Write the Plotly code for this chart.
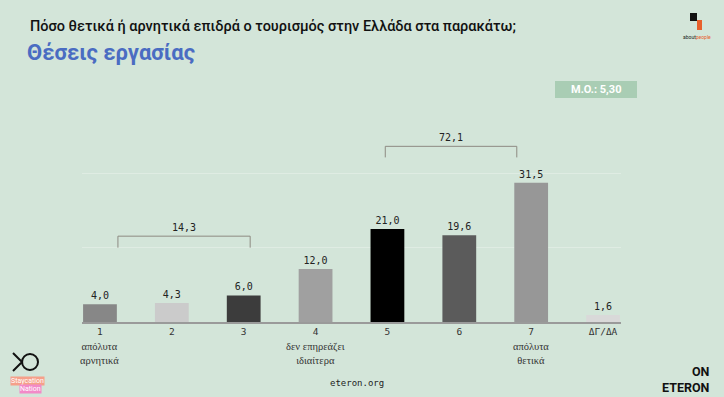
import plotly.graph_objects as go

# ---- data ----
categories = ["1", "2", "3", "4", "5", "6", "7", "ΔΓ/ΔΑ"]
values = [4.0, 4.3, 6.0, 12.0, 21.0, 19.6, 31.5, 1.6]
bar_colors = ["#878787", "#cbcbcb", "#3c3c3c", "#a0a0a0", "#000000", "#5b5b5b", "#979797", "#d9d9d9"]
descriptions = {0: "απόλυτα<br>αρνητικά", 3: "δεν επηρεάζει<br>ιδιαίτερα", 6: "απόλυτα<br>θετικά"}
group_sums = [("14,3", 0.25, 2.09, 16.8, 19.4), ("72,1", 3.97, 5.80, 37.2, 39.7)]
title = "Πόσο θετικά ή αρνητικά επιδρά ο τουρισμός στην Ελλάδα στα παρακάτω;"
subtitle = "Θέσεις εργασίας"
mean_label = "Μ.Ο.: 5,30"

W, H = 724, 397
ML, MR, MT, MB = 82, 103, 99, 75
PW, PH = W - ML - MR, H - MT - MB
BG = "#d3e5d9"


def px(x):
    return (x - ML) / PW


def py(y):
    return (H - MB - y) / PH


xs = list(range(len(categories)))
labels = [f"{v:.1f}".replace(".", ",") for v in values]

fig = go.Figure(go.Bar(
    x=xs, y=values, width=0.47,
    marker=dict(color=bar_colors, line=dict(width=0)),
    text=labels, textposition="outside", cliponaxis=False,
    textfont=dict(family="DejaVu Sans Mono", size=10, color="#222222"),
    hoverinfo="skip",
))

annotations = []
shapes = []

# title & subtitle
annotations.append(dict(text=title, x=px(28), y=py(27), xref="paper", yref="paper",
                        xanchor="left", yanchor="middle", showarrow=False,
                        font=dict(family="Roboto", size=14.5, color="#111111", weight=500)))
annotations.append(dict(text="<b>" + subtitle + "</b>", x=px(25), y=py(52), xref="paper", yref="paper",
                        xanchor="left", yanchor="middle", showarrow=False,
                        font=dict(family="Roboto", size=22, color="#4a6cc2")))

# mean box
shapes.append(dict(type="rect", xref="paper", yref="paper", x0=px(555), x1=px(637), y0=py(98), y1=py(81),
                   fillcolor="#a9cdb4", line=dict(width=0), layer="above"))
annotations.append(dict(text="<b>" + mean_label + "</b>", x=px(596), y=py(89.5), xref="paper", yref="paper",
                        showarrow=False, xanchor="center", yanchor="middle",
                        font=dict(family="Roboto", size=11, color="#ffffff")))

# group brackets
for lab, x0, x1, ylo, yhi in group_sums:
    shapes.append(dict(type="path", xref="x", yref="y",
                       path=f"M {x0} {ylo} L {x0} {yhi} L {x1} {yhi} L {x1} {ylo}",
                       line=dict(color="#8d8a82", width=1)))
    annotations.append(dict(text=lab, x=(x0 + x1) / 2, y=yhi, xref="x", yref="y",
                            yanchor="bottom", showarrow=False, yshift=1,
                            font=dict(family="DejaVu Sans Mono", size=10, color="#222222")))

# descriptions under ticks
for i, d in descriptions.items():
    annotations.append(dict(text=d, x=i, y=py(339), xref="x", yref="paper",
                            yanchor="top", showarrow=False,
                            font=dict(family="Liberation Serif", size=10.5, color="#333333")))

# footer
annotations.append(dict(text="eteron.org", x=px(357), y=py(383), xref="paper", yref="paper",
                        showarrow=False, xanchor="center", yanchor="middle",
                        font=dict(family="DejaVu Sans Mono", size=9, color="#222222")))
annotations.append(dict(text="<b>ON<br>ETERON</b>", x=px(712), y=py(380), xref="paper", yref="paper",
                        showarrow=False, xanchor="right", yanchor="middle", align="right",
                        font=dict(family="Roboto", size=12.5, color="#111111"),
                        ))

# top-right logo
shapes.append(dict(type="rect", xref="paper", yref="paper", x0=px(690), x1=px(697), y0=py(21), y1=py(13),
                   fillcolor="#111111", line=dict(width=0)))
shapes.append(dict(type="rect", xref="paper", yref="paper", x0=px(697), x1=px(702), y0=py(30), y1=py(20),
                   fillcolor="#e8602c", line=dict(width=0)))
annotations.append(dict(text="about<span style='color:#e8602c'>people</span>", x=px(697), y=py(37),
                        xref="paper", yref="paper", showarrow=False, xanchor="center", yanchor="middle",
                        font=dict(family="Roboto", size=5, color="#222222")))

# bottom-left logo
shapes.append(dict(type="circle", xref="paper", yref="paper", x0=px(22), x1=px(38), y0=py(370), y1=py(354),
                   line=dict(color="#111111", width=2)))
shapes.append(dict(type="path", xref="paper", yref="paper",
                   path=f"M {px(13)} {py(353)} L {px(22)} {py(362)} L {px(13)} {py(371)}",
                   line=dict(color="#111111", width=2)))
annotations.append(dict(text="Staycation", x=px(27), y=py(381), xref="paper", yref="paper",
                        showarrow=False, xanchor="center", yanchor="middle", bgcolor="#f5a08a",
                        borderpad=0, font=dict(family="Roboto", size=7, color="#ffffff")))
annotations.append(dict(text="Nation", x=px(30), y=py(389), xref="paper", yref="paper",
                        showarrow=False, xanchor="center", yanchor="middle", bgcolor="#f28ac8",
                        borderpad=0, font=dict(family="Roboto", size=7, color="#ffffff")))

fig.update_layout(
    width=W, height=H, autosize=False,
    margin=dict(l=ML, r=MR, t=MT, b=MB),
    paper_bgcolor=BG, plot_bgcolor=BG,
    showlegend=False,
    shapes=shapes, annotations=annotations,
    xaxis=dict(range=[-0.25, 7.25], tickmode="array", tickvals=xs, ticktext=categories,
               showgrid=False, zeroline=False, showline=True, linecolor="#9a9a9a", linewidth=1.5,
               ticks="", tickfont=dict(family="DejaVu Sans Mono", size=9.5, color="#333333"),
               fixedrange=True),
    yaxis=dict(range=[0, 50.4], tickmode="linear", tick0=0, dtick=16.8, showticklabels=False,
               showgrid=True, gridcolor="#dfece3", gridwidth=1, zeroline=False, fixedrange=True),
)

fig.write_html(
    "out.html",
    config={"displayModeBar": False},
    post_script="document.body.style.margin='0';document.body.style.background='" + BG + "';"
                "document.body.style.overflow='hidden';",
)
